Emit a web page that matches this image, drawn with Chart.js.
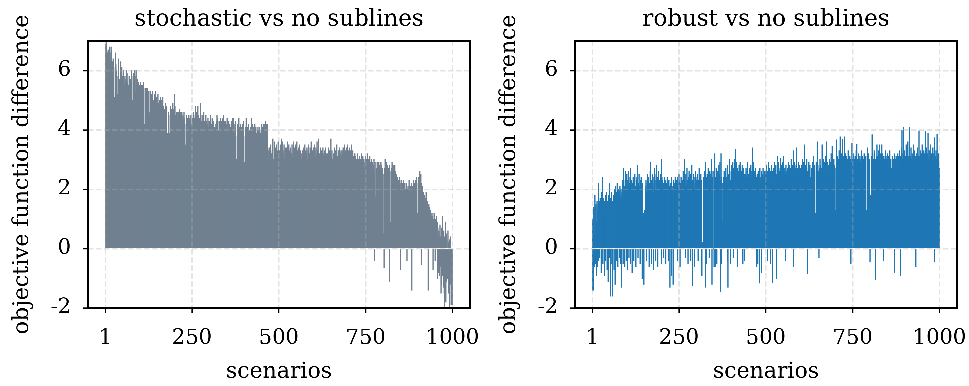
<!DOCTYPE html>
<html>
<head>
<meta charset="utf-8">
<script src="https://cdn.jsdelivr.net/npm/chart.js@4.4.0/dist/chart.umd.min.js"></script>
<style>
html, body { margin: 0; padding: 0; background: #fff; }
#wrap { position: relative; width: 969px; height: 386px; }
.caja { position: absolute; top: 0; height: 386px; }
</style>
</head>
<body>
<div id="wrap">
    <div class="caja" style="left:0;width:484px"><canvas id="graficaStochastic"></canvas></div>
    <div class="caja" style="left:487px;width:482px"><canvas id="graficaRobust"></canvas></div>
</div>
<script>
// Ticks de los ejes
const ticksX = [1, 250, 500, 750, 1000];
const ticksY = [-2, 0, 2, 4, 6];
const titulos = ["stochastic vs no sublines", "robust vs no sublines"];

// Diferencia de la funcion objetivo por escenario (1..1000)
const stochasticDiff = [
    4.6, 6.9, 6.6, 7.0, 6.7, 6.6, 6.6, 5.9, 6.6, 6.7, 6.5, 6.6, 6.8, 6.6, 6.3, 6.2, 6.8, 6.5, 6.7, 6.0,
    6.3, 6.0, 6.4, 5.9, 6.1, 5.0, 5.1, 4.9, 5.0, 6.6, 6.2, 5.8, 6.0, 5.8, 5.2, 5.0, 5.1, 6.4, 5.9, 5.7,
    5.7, 5.3, 5.1, 5.2, 6.3, 5.6, 5.1, 6.1, 5.8, 5.4, 5.0, 5.9, 6.0, 5.6, 5.5, 5.0, 5.8, 5.7, 5.1, 5.0,
    5.2, 6.0, 5.9, 5.6, 5.1, 4.9, 5.0, 5.5, 5.8, 4.9, 4.9, 5.3, 5.7, 5.6, 5.2, 6.0, 5.8, 5.0, 4.8, 4.8,
    5.9, 5.7, 5.5, 5.4, 6.0, 5.8, 5.1, 5.3, 6.0, 5.5, 5.2, 5.6, 5.7, 5.1, 5.4, 5.6, 5.0, 4.8, 5.5, 5.2,
    5.3, 5.6, 5.4, 5.2, 5.5, 5.1, 5.2, 5.5, 5.4, 5.0, 5.6, 4.1, 4.2, 4.0, 5.4, 5.1, 5.0, 5.3, 5.4, 4.9,
    5.1, 5.4, 5.2, 4.7, 5.0, 5.3, 4.5, 4.4, 4.6, 5.3, 5.0, 4.9, 5.2, 4.6, 4.5, 5.1, 5.3, 4.8, 4.4, 5.0,
    4.8, 5.2, 4.7, 4.6, 5.3, 5.0, 4.9, 4.5, 5.1, 4.8, 4.6, 5.2, 4.9, 4.7, 4.5, 5.0, 4.9, 4.6, 4.4, 5.1,
    4.7, 5.0, 4.6, 4.4, 4.9, 5.1, 4.8, 4.3, 4.2, 4.7, 4.4, 4.5, 4.3, 4.9, 4.6, 4.5, 4.8, 3.8, 3.7, 3.9,
    3.8, 4.3, 4.6, 3.7, 3.8, 3.9, 4.5, 4.8, 4.2, 3.9, 4.4, 4.7, 3.8, 4.0, 4.9, 4.6, 4.3, 4.7, 4.5, 5.2,
    4.8, 4.4, 4.5, 4.1, 4.3, 4.6, 4.6, 4.4, 4.2, 4.6, 4.3, 4.1, 4.5, 4.7, 4.2, 4.4, 4.6, 4.3, 4.2, 4.5,
    4.6, 4.3, 4.1, 4.5, 4.4, 4.2, 4.6, 4.4, 4.1, 3.5, 3.4, 3.4, 4.2, 4.5, 4.3, 4.0, 4.4, 4.2, 4.1, 4.3,
    4.5, 4.2, 4.1, 4.4, 4.0, 4.3, 4.5, 4.2, 3.9, 4.1, 4.4, 4.3, 4.0, 4.2, 4.6, 4.4, 4.1, 4.3, 4.5, 4.8,
    4.4, 4.2, 4.6, 4.3, 4.0, 4.4, 4.8, 4.5, 4.1, 4.2, 4.4, 4.1, 4.3, 4.9, 4.5, 4.2, 4.0, 4.3, 4.5, 4.4,
    4.2, 4.0, 4.4, 4.6, 4.1, 3.9, 4.3, 4.2, 4.0, 4.5, 4.3, 3.8, 3.7, 3.7, 4.2, 4.4, 4.1, 4.0, 4.3, 4.1,
    4.3, 4.0, 4.2, 4.5, 4.1, 3.9, 4.2, 4.4, 4.0, 4.1, 4.3, 4.0, 2.8, 2.7, 2.8, 4.1, 3.9, 4.0, 4.2, 4.3,
    4.0, 4.5, 4.1, 4.4, 3.9, 3.8, 4.0, 4.3, 4.1, 3.9, 4.2, 4.4, 4.0, 4.1, 3.8, 4.3, 4.2, 4.0, 4.4, 4.1,
    4.5, 4.2, 4.3, 4.0, 3.8, 4.1, 4.3, 3.9, 4.0, 4.2, 4.4, 4.0, 3.7, 3.8, 4.1, 4.3, 4.0, 3.9, 4.2, 4.0,
    4.1, 3.9, 4.3, 4.0, 3.8, 4.2, 4.4, 4.1, 3.7, 4.4, 4.2, 3.9, 3.8, 4.1, 4.3, 4.0, 2.9, 2.8, 3.0, 3.8,
    4.2, 4.0, 3.9, 4.1, 4.4, 4.0, 3.8, 4.1, 3.9, 4.2, 3.9, 4.1, 3.8, 4.0, 4.2, 3.9, 4.1, 4.3, 4.0, 2.9,
    2.8, 2.9, 3.8, 4.1, 3.9, 4.4, 4.3, 3.7, 3.9, 4.1, 4.0, 3.8, 4.2, 3.9, 4.0, 3.7, 3.9, 4.0, 4.1, 3.8,
    4.1, 4.4, 4.0, 3.9, 4.2, 3.8, 4.0, 4.1, 3.7, 3.9, 4.2, 4.0, 3.8, 4.1, 3.9, 3.6, 3.7, 4.0, 3.8, 4.1,
    3.9, 4.0, 3.7, 3.8, 4.1, 3.9, 3.6, 3.8, 4.0, 3.9, 4.2, 3.8, 3.7, 4.1, 4.0, 3.9, 4.2, 4.1, 3.8, 4.2,
    4.0, 4.3, 4.1, 3.9, 4.2, 4.0, 3.8, 4.2, 3.3, 3.0, 2.9, 3.4, 3.2, 2.8, 3.1, 3.5, 3.3, 3.0, 2.9, 3.2,
    3.5, 3.2, 3.7, 3.0, 2.9, 2.7, 3.3, 3.6, 3.1, 3.4, 3.0, 2.8, 3.5, 3.2, 3.3, 3.0, 2.9, 3.6, 1.9, 1.9,
    1.9, 3.3, 3.1, 2.9, 3.5, 3.2, 3.0, 3.7, 2.8, 3.1, 3.6, 3.3, 2.9, 3.2, 3.5, 3.0, 2.8, 3.3, 3.1, 3.4,
    3.2, 2.9, 3.4, 3.1, 3.6, 3.3, 3.0, 2.8, 3.5, 3.2, 2.9, 3.3, 3.1, 3.4, 3.0, 2.7, 3.2, 3.5, 3.1, 2.9,
    3.3, 3.6, 3.0, 3.2, 2.9, 3.4, 3.1, 3.5, 2.8, 3.2, 3.0, 3.6, 3.3, 2.9, 3.1, 3.4, 3.2, 2.8, 3.0, 3.5,
    3.1, 3.3, 2.9, 3.2, 3.0, 2.4, 2.4, 2.3, 3.3, 3.1, 3.4, 2.9, 3.2, 3.0, 3.5, 3.1, 2.8, 3.3, 3.0, 3.2,
    3.4, 3.0, 2.9, 3.3, 3.1, 3.5, 2.8, 3.2, 3.0, 3.4, 3.1, 2.9, 3.6, 3.2, 3.0, 3.3, 2.8, 3.1, 3.4, 3.0,
    3.2, 3.5, 3.0, 3.3, 2.9, 3.1, 3.4, 3.0, 3.2, 3.6, 2.9, 3.3, 3.1, 3.7, 2.2, 2.2, 2.3, 3.2, 3.0, 3.4,
    3.1, 2.9, 3.3, 3.0, 3.2, 2.8, 3.4, 3.1, 2.9, 3.2, 3.0, 3.3, 2.8, 3.1, 3.4, 3.0, 2.9, 3.2, 3.0, 2.8,
    3.2, 3.0, 3.4, 2.9, 3.1, 3.3, 2.8, 3.0, 3.2, 3.7, 3.1, 2.9, 3.3, 3.0, 2.7, 2.6, 2.6, 3.2, 3.0, 3.4,
    3.1, 2.8, 3.3, 3.0, 3.2, 2.9, 3.5, 3.1, 2.8, 3.0, 3.3, 2.9, 3.1, 3.4, 3.0, 2.7, 3.2, 2.9, 3.3, 3.1,
    3.0, 3.3, 2.9, 3.2, 3.4, 3.0, 2.8, 3.1, 3.5, 3.2, 2.9, 3.3, 3.0, 3.4, 3.1, 2.8, 3.2, 3.5, 3.0, 3.3,
    3.1, 2.9, 3.4, 3.2, 3.0, 3.3, 2.8, 3.1, 3.5, 3.2, 3.0, 2.9, 3.3, 3.1, 1.5, 1.4, 1.5, 3.0, 3.2, 2.9,
    3.1, 2.8, 3.0, 2.7, 2.9, 3.2, 2.6, 2.8, 3.0, 2.5, 2.9, 3.1, 2.7, 2.8, 3.0, 2.6, 2.9, 3.2, 2.8, 2.7,
    2.9, 3.1, 2.6, 2.8, 3.0, 2.7, 2.5, 2.9, 3.1, 2.8, 2.6, 3.0, 2.7, 2.9, 3.2, 2.6, 2.8, 2.5, 3.0, 2.7,
    2.8, 3.1, 2.6, 2.9, 2.7, 3.0, 2.5, 2.8, 2.6, 2.9, 2.7, 2.4, 2.8, 3.0, -0.4, 2.6, 2.9, 1.7, 1.7, 1.8,
    2.7, 2.5, 2.9, 2.6, 2.8, 2.4, 2.7, 2.9, 2.5, 2.8, 2.6, 2.3, 2.7, 2.9, 2.5, 2.8, 2.6, 2.4, 2.7, 2.5,
    0.5, 0.5, -0.65, 0.5, 2.7, 3.0, 2.6, 2.8, 2.5, 2.9, 2.7, 2.4, 2.8, 2.6, 2.3, 2.7, 2.5, -1.1, 2.8, 2.6,
    0.9, 0.9, 0.8, 2.7, 2.5, 2.9, 2.6, 2.4, 2.8, 2.6, 2.3, 2.7, 2.5, 2.8, 2.4, 2.6, 2.2, 2.5, 2.3, 2.4,
    2.2, 2.4, 2.0, 2.3, 1.9, 2.1, 2.4, 1.8, 2.2, -0.7, 2.0, 2.3, 1.7, 2.1, 1.9, 2.2, 1.6, 2.0, 2.3, 1.8,
    2.1, 1.9, 2.2, 1.7, 2.0, 1.8, 2.2, 1.6, -0.4, 2.0, 1.9, 2.1, 1.7, 2.0, 2.3, 1.8, 1.5, 2.1, 1.9, 1.7,
    2.0, 2.2, -1.4, 1.8, 2.1, 1.9, 2.3, 1.7, 2.0, 2.2, 1.8, 2.1, 1.6, 2.3, 2.0, 1.9, 2.4, 1.2, 1.1, 1.2,
    2.2, 2.0, 2.4, 1.9, 2.1, 2.6, 2.3, 2.0, 2.5, -0.55, 2.2, 1.8, 2.1, 1.9, 1.7, 1.5, 1.9, 1.4, 1.6, 1.8,
    1.5, 1.3, 1.7, 1.9, 1.4, 1.2, 1.6, 1.3, 0.5, -1.4, 0.5, 1.5, 1.2, 1.4, 1.0, 1.3, 1.1, 1.2, 0.9, 1.1,
    1.2, 0.9, 1.1, -0.7, 0.8, 1.0, 1.2, 0.7, 0.9, -0.4, 1.0, 0.6, 0.8, 1.1, 0.5, 0.9, -1.0, 0.7, 0.4, -0.8,
    0.6, -0.9, 0.5, 0.8, -0.6, 0.4, -1.5, 0.7, -1.2, 0.3, 1.1, -0.9, 0.5, -1.3, 0.6, -1.5, -2.0, 0.4, -1.3, 0.9,
    -1.8, 0.5, -1.1, 0.3, -0.7, -1.0, 0.6, -1.5, 0.2, -0.8, -1.95, 0.3, -1.2, -0.6, 0.4, -1.9, -1.4, -0.5, -1.9, -1.9
];

const robustDiff = [
    1.0, -1.4, -1.3, -1.4, 1.4, 0.5, -0.6, 1.8, 1.4, -0.5, 1.5, 0.9, -0.9, 1.6, 1.3, -0.6, 1.5, 2.2, -0.4, 1.6,
    1.4, -0.3, 1.7, 1.2, 1.5, -0.8, 1.9, 1.6, 2.4, 1.3, -0.5, 1.5, 1.7, 1.1, -0.9, 1.6, 1.4, 1.8, -0.4, 1.5,
    1.9, 1.3, -0.7, 1.6, 1.2, -1.1, 1.8, 1.5, -0.3, 2.2, 1.4, 1.7, -1.6, 1.2, 1.5, 1.9, -0.5, 1.6, -1.6, 1.3,
    1.8, 1.5, -0.7, 2.0, 1.6, -1.2, 1.9, 2.1, 1.7, -0.4, 1.9, 2.2, 1.8, -0.6, 1.9, 2.0, 1.6, -0.3, 1.9, 2.1,
    1.7, -0.5, 2.0, 1.8, -1.3, 1.9, 2.3, 2.0, -0.5, 2.4, 2.7, 2.1, 1.9, -0.6, 2.3, 2.6, 2.0, -0.4, 2.2, 2.5,
    2.1, -0.7, 2.3, 1.9, 2.6, -0.3, 2.2, 2.0, 2.4, 2.7, -0.5, 2.1, 2.3, 1.9, -0.8, 2.2, 2.0, 2.4, 1.8, -0.4,
    2.2, 1.9, 2.5, 2.1, 1.8, -0.6, 2.3, 2.0, 2.4, 2.8, 1.9, -0.3, 2.2, 2.0, 2.5, 1.8, 2.1, -0.5, 2.3, 1.9,
    2.4, 2.0, 1.8, -1.0, 2.2, 1.1, 1.0, 1.2, -1.2, 1.0, 1.3, 0.9, 1.1, 2.1, 2.3, -0.4, 1.9, 2.2, 2.0, 2.5,
    2.1, 1.9, 2.4, -0.6, 2.2, 2.0, 2.6, 2.9, 2.1, 1.8, -0.5, 2.3, 2.0, 2.5, 2.2, 1.9, -0.7, 2.4, 2.1, 2.7,
    2.3, 2.0, -0.4, 2.5, 2.2, 2.8, 2.0, 2.4, -0.6, 2.2, 2.6, 0.2, 0.1, 0.2, 2.3, 2.0, 2.5, 2.2, -0.5, 3.0,
    2.4, 2.1, 2.3, 1.9, 2.2, -0.3, 2.0, 2.4, 1.9, 2.1, 2.3, -0.5, 2.0, 1.8, 2.2, 2.4, 1.9, 2.1, -0.4, 2.0,
    2.3, 1.9, 2.1, -1.3, 2.2, 2.0, 1.8, -0.9, 2.4, 2.1, 1.9, 2.0, -1.2, 2.3, 2.1, 1.9, 2.2, 2.0, 2.4, 1.8,
    2.1, 2.3, 1.9, 2.0, 2.4, -0.4, 2.2, 1.9, 2.1, 2.5, 2.0, 2.3, -0.6, 1.9, 2.2, 2.4, 2.0, 2.1, 2.3, 1.9,
    2.2, 2.6, 2.1, 2.4, 2.0, 3.0, 2.3, -0.3, 2.1, 2.5, 2.2, 2.0, 2.7, 2.3, 2.1, -0.5, 2.4, 2.2, 2.6, 2.0,
    2.3, 2.5, 2.1, -0.4, 2.4, 2.2, 2.8, 2.0, -1.25, 2.3, 2.1, 2.5, 2.2, -0.6, 2.0, 2.4, 2.2, 2.6, 2.1, 2.3,
    2.0, 2.4, 2.2, 2.5, -0.4, 2.1, 2.3, 2.7, 2.0, 2.2, 2.4, 2.1, 2.5, 2.3, 2.0, -0.9, 0.2, 0.1, 0.2, 2.2,
    2.4, 2.1, 2.3, 2.6, 2.2, 2.9, -1.3, 2.4, -0.5, 2.2, 2.5, 2.1, 2.3, 2.7, 2.0, 2.4, -0.3, 2.2, 2.6, 2.3,
    2.1, 2.5, 3.0, 2.3, -1.2, 2.4, 2.2, 2.6, 0.0, 0.0, -0.6, 2.5, 3.2, 2.3, -0.6, 2.4, 2.7, 2.2, -0.5, 2.5,
    2.3, 2.6, 2.5, 2.4, 2.8, 2.2, 2.5, 2.9, 2.3, -1.45, 3.2, 2.4, -0.5, 2.2, 0.9, 0.8, 0.9, 2.4, 2.0, 2.6,
    2.2, 2.5, 2.0, 2.3, 2.7, 1.9, 2.4, 2.1, 2.8, -0.4, -1.3, 2.0, 2.5, 2.2, 3.0, 2.4, 2.1, -0.5, 2.3, 2.6,
    2.4, 2.8, 2.2, 2.6, 2.9, 2.3, -0.3, 2.7, 2.5, 3.0, 2.4, 2.8, 3.35, 2.6, 2.3, 2.9, 2.5, 2.7, -0.6, 2.4,
    2.6, 2.3, 2.8, 2.5, 2.2, 2.9, 2.4, 2.7, 2.3, 2.6, 2.2, 2.8, 2.5, -0.5, 2.4, 2.7, 2.3, 2.5, -0.4, 2.2,
    2.5, 2.2, 2.7, 2.4, 2.1, 2.6, 2.3, 2.9, 2.2, 2.5, 2.0, 2.4, 2.7, 2.2, 2.5, 2.3, 2.8, 2.1, 2.4, 2.6,
    2.3, 3.4, 2.5, 2.2, 2.9, 2.4, 2.1, 2.6, 2.3, 2.7, 2.0, 2.4, 2.2, -0.6, 2.5, 2.3, -0.5, 2.6, 2.4, 2.2,
    2.5, -1.16, 2.7, 2.3, 2.0, 2.4, 2.6, -0.8, 2.1, 2.5, 2.3, 2.7, 2.2, 2.4, 2.0, 2.6, 2.3, 2.1, 2.4, 2.6,
    2.4, 2.8, 2.2, 2.6, -0.4, 2.3, 2.9, 2.5, 2.1, 2.7, 2.4, 2.2, 2.6, -0.5, 2.3, 2.8, 2.5, 2.2, -1.15, 2.6,
    2.3, 2.7, 2.5, 2.2, 2.9, 2.4, 2.6, 2.3, 2.8, 2.5, -1.0, 2.4, 3.1, 2.6, 2.3, 2.5, 2.9, 2.2, 2.6, 2.4,
    2.7, 3.05, 2.4, 2.6, 2.3, 2.8, 2.5, 2.2, 2.9, 3.0, 3.1, 2.4, 2.6, 2.3, 2.7, -0.4, 2.5, 2.8, 2.3, 2.6,
    2.4, 2.7, 2.5, 2.3, 2.9, 2.6, 2.2, 2.8, 2.5, 2.4, 2.7, 2.3, 3.0, 2.6, 2.4, 2.8, 2.5, 2.3, 3.3, -0.6,
    2.6, 2.4, 2.9, 2.5, 2.7, 2.3, 2.8, 2.6, 3.4, 2.4, 2.7, 2.5, 2.2, 2.9, 2.6, 2.4, 2.8, 2.5, 2.3, 2.7,
    2.5, 2.8, 2.4, 2.6, 3.0, 2.3, 2.7, 2.5, 2.9, 2.4, 3.5, 2.6, 2.3, 2.8, 2.5, 2.7, 2.4, 3.0, 2.6, -0.85,
    2.4, 2.7, 2.5, 2.9, 2.3, 2.6, 2.8, 2.4, 1.3, 1.2, 1.3, 2.7, 2.5, 2.9, 2.4, 2.6, 3.1, 2.5, 2.8, 2.3,
    2.6, 1.1, 1.1, 1.2, 2.9, 2.5, 2.7, 3.6, 2.4, 2.8, 2.6, 2.3, -0.3, 2.7, 2.5, 3.0, 2.4, 2.8, 2.6, 2.3,
    2.7, 3.5, 2.5, 2.8, 2.4, 3.0, 2.6, 2.9, 2.5, 2.7, 2.4, 3.1, 2.6, 2.8, 3.6, 2.5, 2.7, 2.9, 2.4, 2.6,
    2.8, 2.5, 3.0, 2.7, 2.4, 2.9, 2.6, 3.2, 2.5, 2.8, 3.45, 2.6, 2.9, 2.5, 2.7, 3.0, 2.6, 2.8, 1.3, 1.2,
    1.3, 2.7, 3.67, 2.9, 2.6, 3.1, 2.8, 2.5, 3.0, 2.7, 3.3, 2.9, 2.6, 3.77, 2.8, 3.0, 2.7, 3.2, 2.6, 2.9,
    3.69, 2.8, 3.1, 2.7, 2.9, 3.77, 2.6, 3.0, 2.8, 3.2, 2.7, 2.9, 3.1, 2.6, 3.0, 2.8, 3.3, 2.7, 2.9, 3.0,
    2.7, 3.1, 2.8, 3.0, -0.5, 2.9, 2.6, 3.56, 2.8, 3.0, 2.7, 3.2, 2.9, 2.6, 3.0, 2.8, 3.1, 2.7, 2.9, 3.3,
    2.8, 3.52, 2.7, 3.0, 2.9, 2.6, 3.2, 2.8, 3.0, 2.7, 3.1, 2.9, 2.6, 3.0, 2.8, 3.3, 2.7, 2.9, 3.1, 2.8,
    3.0, 2.7, 3.2, 2.9, 2.6, 3.0, 2.8, 3.1, 1.3, 1.2, 1.3, 3.4, 2.8, 3.0, 2.7, 3.2, 2.9, 2.6, 3.0, -0.45,
    1.7, 1.8, 1.7, 3.1, 2.8, 3.84, 2.9, 3.2, 2.7, 3.0, 2.8, 3.3, 2.9, 2.6, -1.05, 3.0, 2.8, 3.1, 2.7, 3.5,
    2.9, 3.1, 2.8, 3.3, 2.7, 3.0, 3.5, 2.9, 3.2, 2.8, 3.0, 2.7, 3.1, 3.5, 2.9, 3.2, 2.8, 3.0, -0.4, 3.1,
    2.8, 3.0, 2.7, 3.3, 2.9, 3.1, 2.6, 3.0, 2.8, 3.2, 2.7, 2.9, 3.1, 2.6, 3.0, 2.8, 3.3, 2.7, 2.9, 3.0,
    2.7, 1.8, 1.7, 1.8, 3.1, 2.8, 3.0, 2.6, 2.9, -0.8, 3.2, 2.7, 3.0, 2.8, 3.1, 2.6, 2.9, 3.0, 2.7, 3.2,
    2.9, 3.1, 2.7, 3.0, 3.3, 2.8, -0.9, 3.1, 2.9, 3.4, 2.7, 4.0, 3.0, 2.8, 3.2, 2.9, 4.1, 3.0, 2.7, 3.3,
    2.9, 3.1, 2.8, 3.5, 3.0, 2.7, 3.2, 2.9, 3.6, 3.1, 2.8, 3.0, 4.1, 3.3, 2.9, 3.1, 2.7, 3.4, 3.0, 2.8,
    3.2, 2.9, 3.1, 2.7, 3.5, 3.0, 2.8, 3.3, 2.9, 3.1, 2.7, -0.6, 3.0, 2.8, 3.2, 2.9, 3.4, 3.0, 2.7, 3.1,
    3.97, 2.8, 3.1, 2.9, 3.3, 3.0, 2.7, 3.2, 2.9, 3.5, 3.0, 2.8, 3.1, 2.9, 3.3, 3.0, 2.7, 3.2, 3.96, 2.9,
    3.1, 2.8, 3.4, 3.0, 2.9, 3.2, 3.9, 3.0, 2.8, 3.3, 2.9, 3.1, 2.7, 3.5, 3.0, 2.8, 3.2, 2.9, 3.1, 2.8,
    3.4, 3.0, 2.7, 3.2, -0.45, 3.74, 2.9, 3.1, 2.8, 3.3, 3.0, 2.9, 3.85, 3.1, 2.8, 3.2, 2.9, 3.0, 2.7, 2.3
];

const colorStochastic = "#708090";
const colorRobust = "#1f77b4";
const colorRejilla = "rgba(176, 176, 176, 0.35)";

Chart.defaults.font.family = "'DejaVu Serif', serif";
Chart.defaults.color = "#000";

// Marco negro alrededor del area de la grafica
var marco = {
    id: 'marco',
    afterDraw: function (chart) {
        var a = chart.chartArea;
        var ctx = chart.ctx;
        ctx.save();
        ctx.strokeStyle = '#000';
        ctx.lineWidth = 1.5;
        ctx.strokeRect(a.left, a.top, a.right - a.left, a.bottom - a.top);
        ctx.restore();
    }
};

function crearGrafica(id, titulo, valores, color, padDerecha) {
    var puntos = [];
    for (var i = 0; i < valores.length; i++) {
        puntos.push({x: i + 1, y: valores[i]});
    }

    var opciones = {
        animation: false,
        responsive: true,
        maintainAspectRatio: false,
        // se dibuja a mas resolucion para que las barras finas no se emborronen
        devicePixelRatio: 3,
        layout: {padding: {right: padDerecha}},
        plugins: {
            legend: {display: false},
            tooltip: {enabled: false},
            title: {
                display: true,
                text: titulo,
                fullSize: false,
                color: '#000',
                font: {size: 23, weight: 'normal'},
                padding: {top: 6, bottom: 7.4}
            }
        },
        scales: {
            x: {
                type: 'linear',
                offset: false,
                min: -49.4,
                max: 1050.4,
                afterBuildTicks: function (eje) {
                    eje.ticks = ticksX.map(function (v) { return {value: v}; });
                },
                afterFit: function (eje) {
                    // sin relleno extra por las etiquetas de los extremos
                    eje.height = 78;
                    eje.paddingLeft = 0;
                    eje.paddingRight = 0;
                },
                ticks: {
                    autoSkip: false,
                    maxRotation: 0,
                    padding: 13,
                    font: {size: 21},
                    callback: function (v) { return String(v); }
                },
                grid: {offset: false, color: colorRejilla, lineWidth: 1.5, z: 1, tickColor: '#000', tickLength: 5, tickWidth: 1.3},
                border: {display: false, dash: [5.5, 2.5]},
                title: {display: true, text: 'scenarios', font: {size: 22}, padding: {top: 0, bottom: 1}}
            },
            y: {
                min: -2,
                max: 7,
                afterBuildTicks: function (eje) {
                    eje.ticks = ticksY.map(function (v) { return {value: v}; });
                },
                afterFit: function (eje) {
                    eje.width = 88;
                    eje.paddingTop = 0;
                    eje.paddingBottom = 0;
                },
                ticks: {
                    padding: 12,
                    font: {size: 21},
                    callback: function (v) { return String(v); }
                },
                grid: {color: colorRejilla, lineWidth: 1.5, z: 1, tickColor: '#000', tickLength: 5, tickWidth: 1.3},
                border: {display: false, dash: [5.5, 2.5]},
                title: {display: true, text: 'objective function difference', font: {size: 22}, padding: {top: 9, bottom: 0}}
            }
        }
    };

    return new Chart(id, {
        type: 'bar',
        data: {
            datasets: [{
                data: puntos,
                backgroundColor: color,
                borderWidth: 0,
                barThickness: 0.5
            }]
        },
        options: opciones,
        plugins: [marco]
    });
}

crearGrafica("graficaStochastic", titulos[0], stochasticDiff, colorStochastic, 14);
crearGrafica("graficaRobust", titulos[1], robustDiff, colorRobust, 12);
</script>
</body>
</html>
